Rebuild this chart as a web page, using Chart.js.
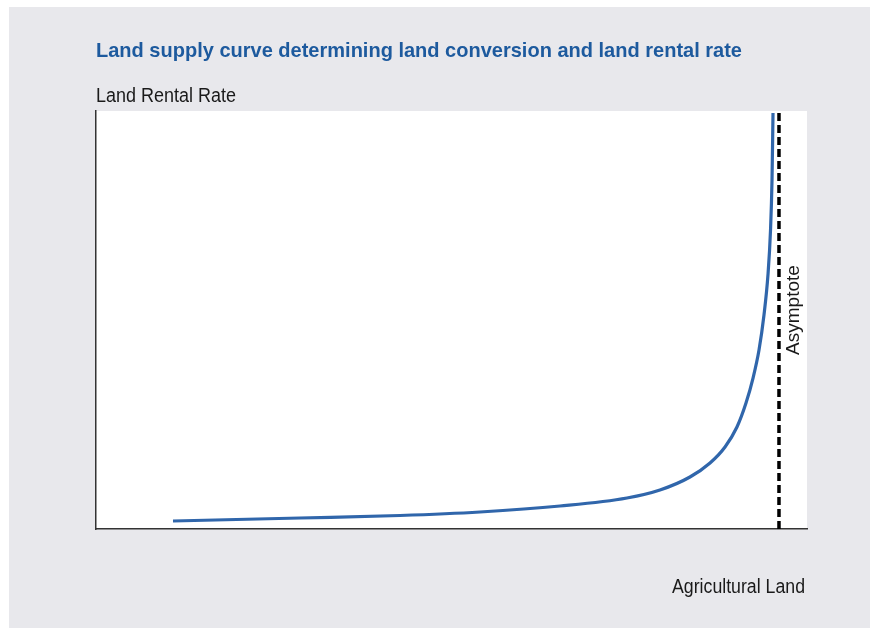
<!DOCTYPE html>
<html>
<head>
<meta charset="utf-8">
<script src="https://cdn.jsdelivr.net/npm/chart.js@4.4.0/dist/chart.umd.min.js"></script>
<style>
  html, body { margin: 0; padding: 0; background: #ffffff; }
  #panel { position: absolute; left: 9px; top: 7px; right: 0; bottom: 0; background: #e8e8ec; }
  #wrap { position: absolute; left: 0; top: 0; width: 870px; height: 628px; }
</style>
</head>
<body>
<div id="panel"></div>
<div id="wrap"><canvas id="supply" width="870" height="628"></canvas></div>
<script>
// values (x = agricultural land, y = land rental rate, both 0..100)
var landX = [10.83, 28.69, 42.76, 54.01, 65.26, 74.68, 79.32, 83.54, 86.36, 88.47, 90.15, 91.42, 92.41, 93.25, 93.95, 94.51, 94.87, 95.08, 95.22];
var rentY = [1.91, 2.63, 3.23, 4.07, 5.50, 7.42, 9.33, 12.44, 15.79, 19.62, 24.40, 30.14, 36.12, 42.82, 51.20, 60.77, 71.53, 83.49, 99.52];
var asymptoteX = [96.06, 96.06];
var asymptoteY = [0, 100];

var chartTitle = 'Land supply curve determining land conversion and land rental rate';
var yTitle = 'Land Rental Rate';
var xTitle = 'Agricultural Land';
var asymLabel = 'Asymptote';

function toPoints(xs, ys) {
    var pts = [];
    for (var i = 0; i < xs.length; i++) pts.push({x: xs[i], y: ys[i]});
    return pts;
}

/* white plot area + text labels */
var paperPlugin = {
    id: 'paper',
    beforeDraw: function(chart) {
        var a = chart.chartArea, ctx = chart.ctx;
        ctx.save();
        ctx.fillStyle = '#ffffff';
        ctx.fillRect(a.left, a.top, a.right - a.left, a.bottom - a.top);
        ctx.restore();
    },
    afterDraw: function(chart) {
        var ctx = chart.ctx;
        ctx.save();
        ctx.textAlign = 'left';
        ctx.textBaseline = 'alphabetic';

        ctx.fillStyle = '#1d5a9e';
        ctx.font = 'bold 21px "Liberation Sans", Arial, sans-serif';
        ctx.fillText(chartTitle, 96, 57, 646);

        ctx.fillStyle = '#1a1a1a';
        ctx.font = '20px "Liberation Sans", Arial, sans-serif';
        ctx.fillText(yTitle, 96, 102, 140);
        ctx.fillText(xTitle, 672, 593, 133);

        var ax = chart.scales.x.getPixelForValue(asymptoteX[0]);
        ctx.translate(ax + 15, 310);
        ctx.rotate(-Math.PI / 2);
        ctx.textAlign = 'center';
        ctx.textBaseline = 'middle';
        ctx.font = '19px "Liberation Sans", Arial, sans-serif';
        ctx.fillText(asymLabel, 0, 0, 104);
        ctx.restore();
    }
};

var ctx = document.getElementById('supply').getContext('2d');
var supplyChart = new Chart(ctx, {
    type: 'line',
    data: {
        datasets: [{
            label: 'Land supply',
            data: toPoints(landX, rentY),
            borderColor: '#3066ab',
            borderWidth: 3.2,
            pointRadius: 0,
            cubicInterpolationMode: 'monotone',
            fill: false
        }, {
            label: 'Asymptote',
            data: toPoints(asymptoteX, asymptoteY),
            borderColor: '#000000',
            borderWidth: 3.5,
            borderDash: [8, 4],
            pointRadius: 0,
            fill: false
        }]
    },
    options: {
        responsive: false,
        animation: false,
        layout: { padding: { left: 96, top: 111, right: 63, bottom: 99 } },
        plugins: {
            legend: { display: false },
            tooltip: { enabled: false }
        },
        scales: {
            x: {
                type: 'linear',
                min: 0,
                max: 100,
                grid: { display: false, drawTicks: false },
                ticks: { display: false },
                border: { display: true, color: '#333333', width: 1.5 }
            },
            y: {
                type: 'linear',
                min: 0,
                max: 100,
                grid: { display: false, drawTicks: false },
                ticks: { display: false },
                border: { display: true, color: '#333333', width: 1.5 }
            }
        }
    },
    plugins: [paperPlugin]
});
</script>
</body>
</html>
